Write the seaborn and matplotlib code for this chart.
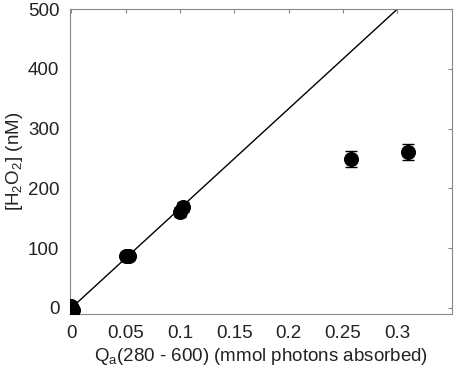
import matplotlib
matplotlib.use("Agg")
import matplotlib.pyplot as plt
import numpy as np
import pandas as pd
import seaborn as sns

# measured points
qa = [0.0, 0.0, 0.001, 0.050, 0.053, 0.100, 0.103, 0.257, 0.310]
h2o2 = [0, 4, -3, 87, 86, 160, 169, 249, 261]
h2o2_err = [2, 2, 2, 4, 4, 8, 8, 14, 14]

# linear fit
fit_x = [0.0, 0.3]
fit_y = [0, 500]

df = pd.DataFrame({"qa": qa, "h2o2": h2o2, "err": h2o2_err})
fit = pd.DataFrame({"qa": fit_x, "h2o2": fit_y})

sns.set_style("white")
plt.rcParams["font.family"] = ["Liberation Sans", "DejaVu Sans"]

fig = plt.figure(figsize=(4.54, 3.75), dpi=100)
ax = fig.add_axes([0.155, 0.163, 0.84, 0.813])

sns.lineplot(data=fit, x="qa", y="h2o2", color="black", lw=1, ax=ax)
ax.errorbar(df["qa"], df["h2o2"], yerr=df["err"], fmt="none", ecolor="black",
            elinewidth=1, capsize=4)
sns.scatterplot(data=df, x="qa", y="h2o2", color="black", s=100, edgecolor="black",
                ax=ax, zorder=3)

ax.set_xlim(-0.001, 0.35)
ax.set_ylim(-10, 500)
ax.set_xticks([0, 0.05, 0.1, 0.15, 0.2, 0.25, 0.3])
ax.set_xticklabels(["0", "0.05", "0.1", "0.15", "0.2", "0.25", "0.3"])
ax.set_yticks([0, 100, 200, 300, 400, 500])

ax.set_xlabel("Q$_{\\mathregular{a}}$(280 - 600) (mmol photons absorbed)", fontsize=13.5,
              color="#222222", labelpad=3)
ax.set_ylabel("[H$_{\\mathregular{2}}$O$_{\\mathregular{2}}$] (nM)", fontsize=13.5,
              color="#222222", labelpad=2)

for s in ax.spines.values():
    s.set_color("#888888")
    s.set_linewidth(0.8)
ax.tick_params(direction="in", length=3, width=0.8, color="#888888", pad=8,
               top=True, right=True, labelsize=13.5, labelcolor="#222222")

fig.savefig("out.png", dpi=100)
